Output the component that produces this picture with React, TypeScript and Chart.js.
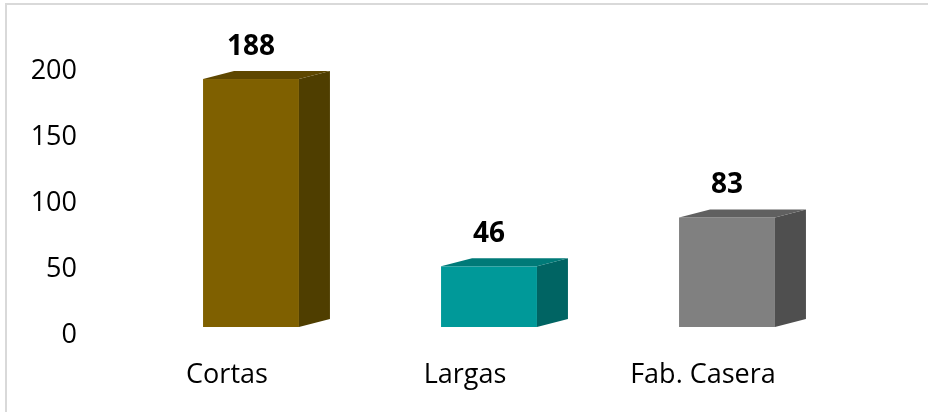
import React, { useEffect, useRef } from "react";
import { Chart, registerables } from "chart.js";

Chart.register(...registerables);

const categories = ["Cortas", "Largas", "Fab. Casera"];
const values = [188, 46, 83];
const frontColors = ["#7F6000", "#009999", "#808080"];
const sideColors = ["#4F3E00", "#006463", "#4F4F4F"];
const topColors = ["#5E4700", "#007A78", "#606060"];
const yTicks = [0, 50, 100, 150, 200];

const FONT = "'Open Sans', sans-serif";

const bar3dPlugin = {
  id: "bar3d",
  beforeDraw(chart: any) {
    const ctx = chart.ctx;
    ctx.save();
    ctx.strokeStyle = "#d9d9d9";
    ctx.lineWidth = 2;
    ctx.beginPath();
    ctx.moveTo(6, 412);
    ctx.lineTo(6, 4);
    ctx.lineTo(928, 4);
    ctx.stroke();
    ctx.restore();
  },
  afterDatasetsDraw(chart: any) {
    const ctx = chart.ctx;
    const meta = chart.getDatasetMeta(0);
    const lift = 8;
    const dx = 31;
    const dy = -8;
    ctx.save();
    meta.data.forEach((el: any, i: number) => {
      const { x, y, base, width } = el.getProps(["x", "y", "base", "width"], true);
      const l = x - width / 2;
      const r = x + width / 2;
      const t = y - lift;
      const b = base - lift;
      // front
      ctx.fillStyle = frontColors[i];
      ctx.fillRect(l, t, r - l, b - t);
      // side
      ctx.fillStyle = sideColors[i];
      ctx.beginPath();
      ctx.moveTo(r, t);
      ctx.lineTo(r + dx, t + dy);
      ctx.lineTo(r + dx, b + dy);
      ctx.lineTo(r, b);
      ctx.closePath();
      ctx.fill();
      // top
      ctx.fillStyle = topColors[i];
      ctx.beginPath();
      ctx.moveTo(l, t);
      ctx.lineTo(l + dx, t + dy);
      ctx.lineTo(r + dx, t + dy);
      ctx.lineTo(r, t);
      ctx.closePath();
      ctx.fill();
      // value label
      ctx.fillStyle = "#000";
      ctx.font = `bold 28px ${FONT}`;
      ctx.textAlign = "center";
      ctx.textBaseline = "middle";
      ctx.fillText(String(values[i]), x, t - 32);
    });
    ctx.restore();
  },
};

export default function App() {
  const ref = useRef<HTMLCanvasElement>(null);
  useEffect(() => {
    if (!ref.current) return;
    const chart = new Chart(ref.current, {
      type: "bar",
      data: {
        labels: categories,
        datasets: [
          {
            data: values,
            backgroundColor: "rgba(0,0,0,0)",
            borderWidth: 0,
            categoryPercentage: 1,
            barPercentage: 0.403,
          },
        ],
      },
      options: {
        responsive: false,
        animation: false,
        events: [],
        layout: { padding: { top: 68, right: 82, bottom: 0, left: 0 } },
        plugins: {
          legend: { display: false },
          tooltip: { enabled: false },
        },
        scales: {
          x: {
            grid: { display: false, drawTicks: false },
            border: { display: false },
            ticks: {
              color: "#000",
              font: { family: FONT, size: 27 },
              padding: 24,
              labelOffset: -24,
              maxRotation: 0,
            },
            afterFit(scale: any) {
              scale.height = 77;
            },
          },
          y: {
            min: 0,
            max: 200,
            grid: { display: false, drawTicks: false },
            border: { display: false },
            afterBuildTicks(scale: any) {
              scale.ticks = yTicks.map((v) => ({ value: v }));
            },
            ticks: {
              color: "#000",
              font: { family: FONT, size: 27 },
              padding: 55,
            },
            afterFit(scale: any) {
              scale.width = 132;
            },
          },
        },
      },
      plugins: [bar3dPlugin],
    });
    return () => chart.destroy();
  }, []);
  return (
    <div style={{ position: "fixed", left: 0, top: 0, width: 928, height: 412, background: "#fff" }}>
      <canvas ref={ref} width={928} height={412} style={{ display: "block", width: 928, height: 412 }} />
    </div>
  );
}
